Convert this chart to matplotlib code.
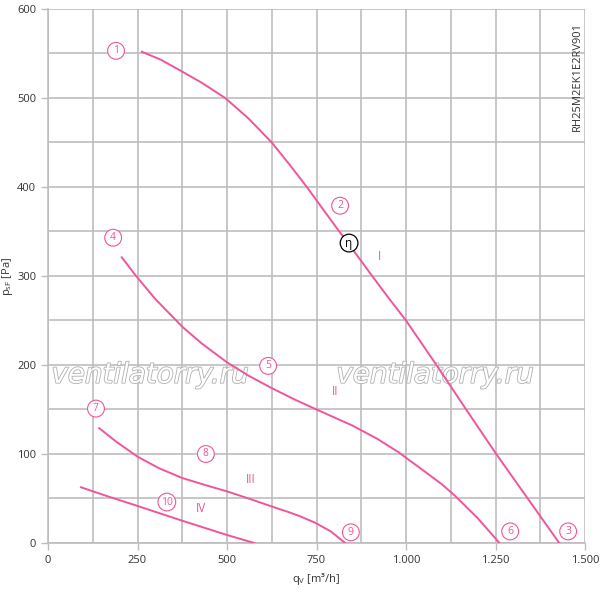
import matplotlib
matplotlib.use("Agg")
import matplotlib.pyplot as plt
import matplotlib.patheffects as pe
from matplotlib.ticker import MultipleLocator, FuncFormatter

plt.rcParams["font.family"] = ["Open Sans", "DejaVu Sans"]

# curve points (q_v in m3/h, p_sF in Pa)
q_I = [262, 315, 369, 430, 495, 560, 625, 675, 723, 770, 810, 838, 900, 950, 1000, 1085, 1168, 1252, 1340, 1428]
p_I = [552, 543, 531, 517, 500, 477, 450, 425, 400, 374, 352, 337, 303, 276, 250, 200, 150, 100, 50, 0]

q_II = [206, 246, 300, 375, 430, 500, 560, 625, 690, 750, 800, 850, 920, 979, 1050, 1100, 1137, 1200, 1261]
p_II = [321, 300, 274, 243, 224, 203, 188, 174, 161, 150, 141, 132, 117, 102, 81, 66, 53, 28, 0]

q_III = [143, 190, 250, 310, 375, 440, 500, 560, 625, 670, 704, 745, 790, 830]
p_III = [129, 114, 97, 84, 73, 65, 58, 50, 41, 35, 30, 23, 13, 0]

q_IV = [92, 170, 250, 375, 500, 576]
p_IV = [62.6, 52, 41.6, 25, 9, 0]

# circled point labels
mark_text = ["1", "2", "3", "4", "5", "6", "7", "8", "9", "10"]
mark_q = [190, 816, 1453, 182, 615, 1291, 134, 441, 846, 332]
mark_p = [553, 379, 13, 343, 199, 13, 151, 100, 12, 46]

roman_text = ["I", "II", "III", "IV"]
roman_q = [927, 802, 567, 427]
roman_p = [322, 170, 71, 39]

eta_q, eta_p = 841, 337

pink = "#f0559b"
grey = "#bdbdbd"
txt = "#333333"

fig = plt.figure(figsize=(6, 5.92), dpi=100)
ax = fig.add_axes([0.08, 0.0828, 0.895, 0.902])

ax.set_xlim(0, 1500)
ax.set_ylim(0, 600)
ax.xaxis.set_major_locator(MultipleLocator(250))
ax.xaxis.set_minor_locator(MultipleLocator(125))
ax.yaxis.set_major_locator(MultipleLocator(100))
ax.yaxis.set_minor_locator(MultipleLocator(50))
ax.xaxis.set_major_formatter(FuncFormatter(lambda v, p: f"{int(v):,}".replace(",", ".")))
ax.grid(True, which="both", color=grey, linewidth=1.2, zorder=0)
ax.set_axisbelow(True)
ax.tick_params(which="major", length=5, color=grey, labelsize=8, labelcolor=txt, width=1)
ax.tick_params(which="minor", length=0)
for s in ["top", "right"]:
    ax.spines[s].set_visible(False)
for s in ["left", "bottom"]:
    ax.spines[s].set_color(grey)
    ax.spines[s].set_linewidth(1.2)

# watermarks
for wx in [285, 1081]:
    ax.text(wx, 189, "ventilatorry.ru", fontsize=20, style="italic", color="white",
            family="DejaVu Sans", ha="center", va="center", zorder=1,
            path_effects=[pe.withStroke(linewidth=1.2, foreground="#b0b0b0")])

for q, p in [(q_I, p_I), (q_II, p_II), (q_III, p_III), (q_IV, p_IV)]:
    ax.plot(q, p, color=pink, linewidth=1.4, zorder=3, solid_joinstyle="round")

for t, q, p in zip(mark_text, mark_q, mark_p):
    ax.text(q, p, t, fontsize=7.5, color=pink, ha="center", va="center", zorder=4,
            bbox=dict(boxstyle="circle,pad=0.28", fc="white", ec=pink, lw=0.8))

for t, q, p in zip(roman_text, roman_q, roman_p):
    ax.text(q, p, t, fontsize=8.5, color=pink, ha="center", va="center", zorder=4)

ax.text(eta_q, eta_p, "η", fontsize=8.5, color="black", ha="center", va="center", zorder=5,
        bbox=dict(boxstyle="circle,pad=0.2", fc="white", ec="black", lw=0.9))

ax.set_xlabel("q$_\\mathregular{V}$ [m³/h]", fontsize=8, color=txt, labelpad=4)
ax.set_ylabel("p$_\\mathregular{sF}$ [Pa]", fontsize=8, color=txt)
ax.yaxis.set_label_coords(-0.062, 0.5)

fig.text(0.962, 0.87, "RH25M2EK1E2RV901", rotation=90, fontsize=8, color=txt,
         ha="center", va="center")

fig.savefig("out.png", dpi=100)
